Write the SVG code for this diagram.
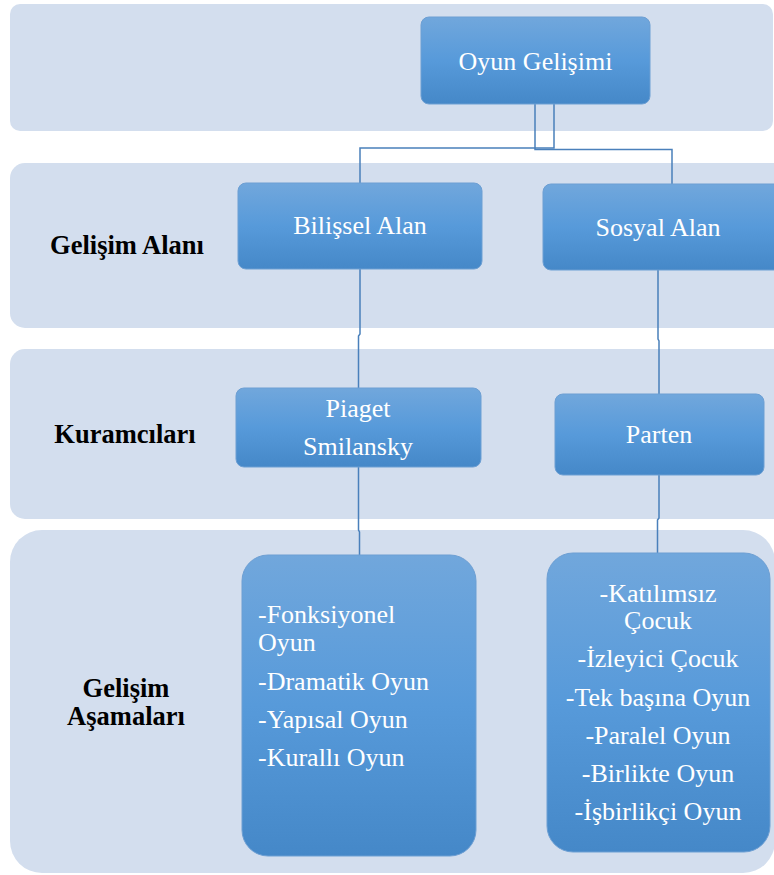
<svg xmlns="http://www.w3.org/2000/svg" width="774" height="875" viewBox="0 0 774 875">
<defs>
<linearGradient id="g" x1="0" y1="0" x2="0" y2="1">
<stop offset="0" stop-color="#71a7dc"/>
<stop offset="0.5" stop-color="#579ada"/>
<stop offset="1" stop-color="#4588c8"/>
</linearGradient>
<style>
.band{fill:#d3deee}
.node{fill:url(#g);stroke:#6d9fd3;stroke-width:1}
.nt{font-family:'Liberation Serif','Times New Roman',serif;font-size:26px;fill:#ffffff}
.lb{font-family:'Liberation Serif','Times New Roman',serif;font-size:26.5px;font-weight:bold;fill:#000000}
.c{fill:none;stroke:#4a80bb;stroke-width:1.5}
</style>
</defs>
<rect width="774" height="875" fill="#ffffff"/>
<g id="bands">
<rect class="band" x="10" y="4" width="763" height="127" rx="10"/>
<rect class="band" x="10" y="163" width="790" height="165" rx="15"/>
<rect class="band" x="10" y="349" width="790" height="170" rx="15"/>
<rect class="band" x="10" y="530" width="765" height="343" rx="32"/>
</g>
<g id="labels" text-anchor="middle">
<text class="lb" x="127" y="254">Gelişim Alanı</text>
<text class="lb" x="125" y="443">Kuramcıları</text>
<text class="lb" x="126" y="697">Gelişim</text>
<text class="lb" x="126" y="725">Aşamaları</text>
</g>
<g id="connectors">
<polyline class="c" points="554,104 554,148 360,148 360,183"/>
<polyline class="c" points="535,104 535,149.5 672,149.5 672,184"/>
<polyline class="c" points="360,269 360,334 358.5,336 358.5,388"/>
<polyline class="c" points="358.5,467 358.5,530 359.5,532 359.5,555"/>
<polyline class="c" points="658,270 658,339 659,341 659,394"/>
<polyline class="c" points="659,475 659,518 657.5,520 657.5,553"/>
</g>
<g id="n-oyun" text-anchor="middle">
<rect class="node" x="421" y="17" width="229" height="87" rx="8"/>
<text class="nt" x="535.5" y="70">Oyun Gelişimi</text>
</g>
<g id="n-bilissel" text-anchor="middle">
<rect class="node" x="238" y="183" width="244" height="86" rx="8"/>
<text class="nt" x="360" y="234">Bilişsel Alan</text>
</g>
<g id="n-sosyal" text-anchor="middle">
<rect class="node" x="543" y="184" width="240" height="86" rx="8"/>
<text class="nt" x="658" y="236">Sosyal Alan</text>
</g>
<g id="n-piaget" text-anchor="middle">
<rect class="node" x="236" y="388" width="245" height="79" rx="8"/>
<text class="nt" x="358" y="417">Piaget</text>
<text class="nt" x="358" y="455">Smilansky</text>
</g>
<g id="n-parten" text-anchor="middle">
<rect class="node" x="555" y="394" width="209" height="81" rx="8"/>
<text class="nt" x="659" y="443">Parten</text>
</g>
<g id="n-bilissel-asamalar">
<rect class="node" x="242" y="555" width="234" height="301" rx="26"/>
<text class="nt" x="258" y="623">-Fonksiyonel</text>
<text class="nt" x="258" y="651">Oyun</text>
<text class="nt" x="258" y="690">-Dramatik Oyun</text>
<text class="nt" x="258" y="728">-Yapısal Oyun</text>
<text class="nt" x="258" y="766">-Kurallı Oyun</text>
</g>
<g id="n-sosyal-asamalar" text-anchor="middle">
<rect class="node" x="547" y="553" width="223" height="299" rx="26"/>
<text class="nt" x="658" y="602">-Katılımsız</text>
<text class="nt" x="658" y="629">Çocuk</text>
<text class="nt" x="658" y="667">-İzleyici Çocuk</text>
<text class="nt" x="658" y="706">-Tek başına Oyun</text>
<text class="nt" x="658" y="744">-Paralel Oyun</text>
<text class="nt" x="658" y="782">-Birlikte Oyun</text>
<text class="nt" x="658" y="820">-İşbirlikçi Oyun</text>
</g>
</svg>
